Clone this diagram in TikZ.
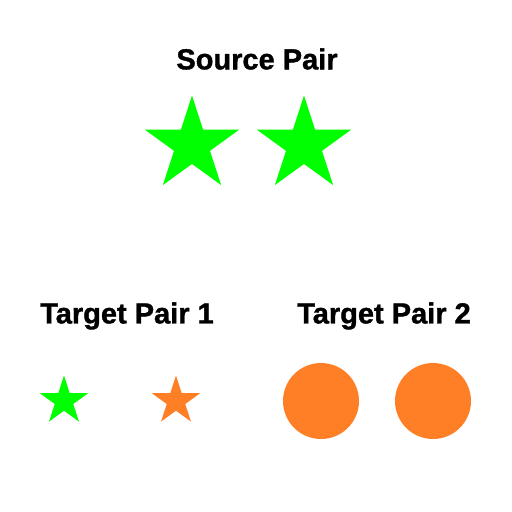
\documentclass[tikz,border=0pt]{standalone}
\usepackage{fontspec}
\setmainfont{Liberation Sans}
\newfontfamily\heavyfont{Liberation Sans Bold}[FakeBold=1.2]
\usepackage{xcolor}
\usepackage{tikz}
\usetikzlibrary{shapes.geometric,calc}
\definecolor{lime}{RGB}{0,255,0}
\definecolor{tangerine}{RGB}{255,127,39}

\begin{document}
\begin{tikzpicture}[x=1pt, y=-1pt,
  title/.style={font=\fontsize{29}{33}\heavyfont, inner sep=0pt},
  bigstar/.style={star, star points=5, star point ratio=2.618, minimum size=99pt, inner sep=0pt, draw=none},
  smallstar/.style={star, star points=5, star point ratio=2.618, minimum size=51pt, inner sep=0pt, draw=none},
  dot/.style={circle, minimum size=76pt, inner sep=0pt, draw=none, fill=tangerine}]
  \useasboundingbox (0,0) rectangle (512,512);
  % source pair
  \node[title] (src) at (257,59) {Source Pair};
  \node[bigstar, fill=lime] (s1) at (192,145) {};
  \node[bigstar, fill=lime] (s2) at ($(s1)+(112,0)$) {};
  % target pair 1
  \node[title] (tgt1) at (127,316) {Target Pair 1};
  \node[smallstar, fill=lime] (t1a) at (64,401) {};
  \node[smallstar, fill=tangerine] (t1b) at ($(t1a)+(112,0)$) {};
  % target pair 2
  \node[title] (tgt2) at (384,316) {Target Pair 2};
  \node[dot] (t2a) at (321,401) {};
  \node[dot] (t2b) at ($(t2a)+(112,0)$) {};
\end{tikzpicture}
\end{document}
